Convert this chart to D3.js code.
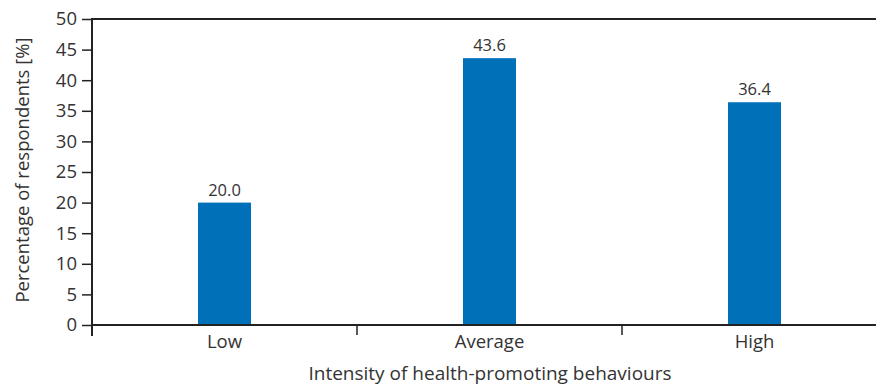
<!DOCTYPE html>
<html><head><meta charset="utf-8">
<script src="https://cdn.jsdelivr.net/npm/d3@7"></script>
<style>body{margin:0;background:#fff;} text{font-family:"Open Sans",sans-serif;fill:#333;}</style>
</head><body>
<svg id="c" width="876" height="385"></svg>
<script>
const categories = ["Low", "Average", "High"];
const values = [20.0, 43.6, 36.4];
const yTicks = [0, 5, 10, 15, 20, 25, 30, 35, 40, 45, 50];
const xTitle = "Intensity of health-promoting behaviours";
const yTitle = "Percentage of respondents [%]";

const svg = d3.select("#c");
const x0 = 92, x1 = 887, yTop = 19, yBot = 325;
const x = d3.scaleBand().domain(categories).range([x0, x1]).paddingInner(0).paddingOuter(0);
const y = d3.scaleLinear().domain([0, 50]).range([yBot, yTop]);
const barW = 53;
const col = "#0070b8", ax = "#222";

// bars
svg.selectAll("rect.bar").data(values).enter().append("rect")
  .attr("x", (d,i) => x(categories[i]) + x.bandwidth()/2 - barW/2)
  .attr("y", d => y(d)).attr("width", barW).attr("height", d => y(0) - y(d))
  .attr("fill", col);

// value labels
svg.selectAll("text.val").data(values).enter().append("text")
  .attr("x", (d,i) => x(categories[i]) + x.bandwidth()/2)
  .attr("y", d => y(d) - 7).attr("text-anchor", "middle")
  .style("font-size", "16.5px").text(d => d.toFixed(1));

// top line
svg.append("line").attr("x1", x0).attr("x2", 876).attr("y1", y(50)).attr("y2", y(50))
  .attr("stroke", ax).attr("stroke-width", 2);

// y axis
const ya = svg.append("g").attr("transform", `translate(${x0},0)`)
  .call(d3.axisLeft(y).tickValues(yTicks).tickSize(10).tickPadding(5));
ya.select(".domain").remove();
ya.selectAll(".tick line").attr("stroke", ax).attr("stroke-width", 1.5);
ya.selectAll(".tick text").style("font-size", "18.5px").style("font-family", "'Open Sans',sans-serif").attr("fill", "#333");
svg.append("line").attr("x1", x0).attr("x2", x0).attr("y1", yTop - 1).attr("y2", yBot + 11)
  .attr("stroke", ax).attr("stroke-width", 2);

// x axis baseline
svg.append("line").attr("x1", x0).attr("x2", 876).attr("y1", yBot).attr("y2", yBot)
  .attr("stroke", ax).attr("stroke-width", 2);
// category boundary ticks
const bounds = categories.slice(1).map(c => x(c));
svg.selectAll("line.bt").data(bounds).enter().append("line")
  .attr("x1", d => d).attr("x2", d => d).attr("y1", yBot).attr("y2", yBot + 10)
  .attr("stroke", ax).attr("stroke-width", 1.5);
// category labels
svg.selectAll("text.cat").data(categories).enter().append("text")
  .attr("x", d => x(d) + x.bandwidth()/2).attr("y", 348).attr("text-anchor", "middle")
  .style("font-size", "18.5px").text(d => d);

// titles
svg.append("text").attr("x", 490).attr("y", 380).attr("text-anchor", "middle")
  .style("font-size", "19px").text(xTitle);
svg.append("text").attr("transform", "translate(29,170) rotate(-90)").attr("text-anchor", "middle")
  .style("font-size", "18.5px").text(yTitle);
</script>
</body></html>
